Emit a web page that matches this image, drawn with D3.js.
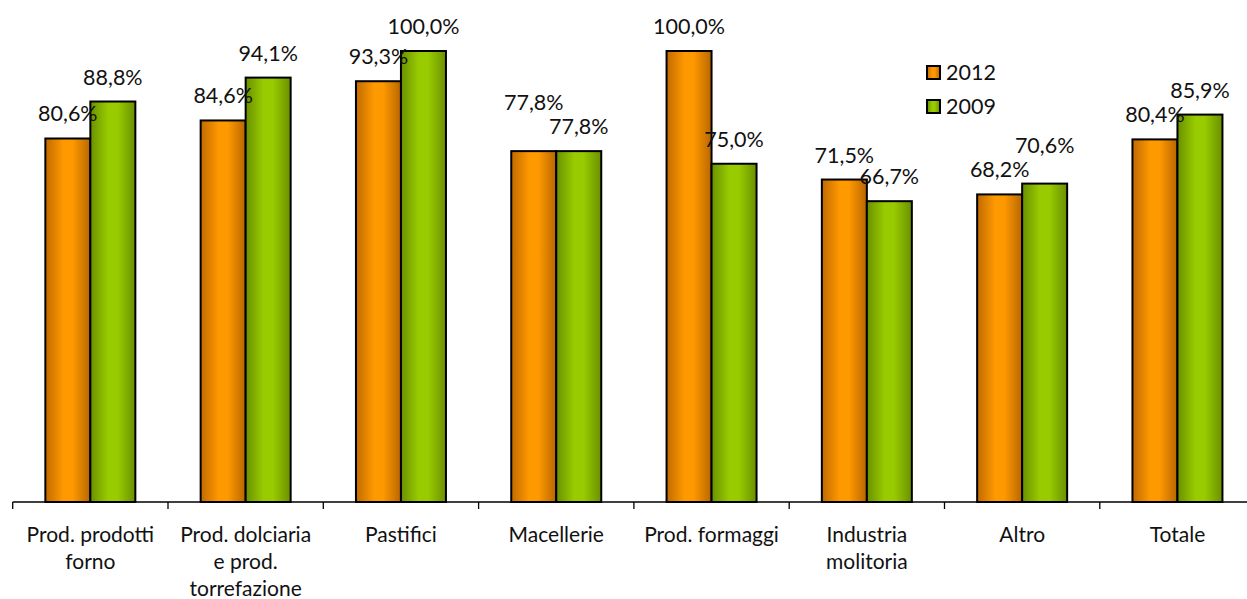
<!DOCTYPE html>
<html><head><meta charset="utf-8">
<script src="https://cdn.jsdelivr.net/npm/d3@7"></script>
<style>body{margin:0;background:#fff}svg{display:block}text{font-family:Lato,"Open Sans",sans-serif;fill:#111}</style>
</head><body><svg id="c" width="1247" height="599"></svg>
<script>
const categories = [["Prod. prodotti","forno"],["Prod. dolciaria","e prod.","torrefazione"],["Pastifici"],["Macellerie"],["Prod. formaggi"],["Industria","molitoria"],["Altro"],["Totale"]];
const series = ["2012","2009"];
const values2012 = [80.6,84.6,93.3,77.8,100.0,71.5,68.2,80.4];
const values2009 = [88.8,94.1,100.0,77.8,75.0,66.7,70.6,85.9];
const seriesValues = [values2012, values2009];
// extra label lift (px) used to avoid label collisions, as in the original
const labelLift = [[0,0,0,24,0,0,0,0],[0,0,0,0,0,0,14,0]];

const svg = d3.select("#c");
const defs = svg.append("defs");
const grads = [["#c06a00","#ff9900","#b86600"],["#6a9000","#99cc00","#6a9000"]];
grads.forEach((g,i)=>{
  const lg = defs.append("linearGradient").attr("id","g"+i).attr("x1","0").attr("x2","1").attr("y1","0").attr("y2","0");
  lg.append("stop").attr("offset","0").attr("stop-color",g[0]);
  lg.append("stop").attr("offset","0.4").attr("stop-color",g[1]);
  lg.append("stop").attr("offset","0.6").attr("stop-color",g[1]);
  lg.append("stop").attr("offset","1").attr("stop-color",g[2]);
});
const x0 = d3.scaleBand().domain(d3.range(categories.length)).range([12.7, 12.7+155.3*8]).paddingInner(0).paddingOuter(0);
const x1 = d3.scaleBand().domain(series).range([x0.bandwidth()/2-45, x0.bandwidth()/2+45]);
const y = d3.scaleLinear().domain([0,100]).range([502,51]);

const g = svg.append("g");
series.forEach((s,si)=>{
  g.selectAll(".b"+si).data(seriesValues[si]).enter().append("rect")
    .attr("x",(d,i)=>x0(i)+x1(s)).attr("width",x1.bandwidth())
    .attr("y",d=>y(d)).attr("height",d=>y(0)-y(d))
    .attr("fill","url(#g"+si+")").attr("stroke","#000").attr("stroke-width",2);
});
series.forEach((s,si)=>{
  g.selectAll(".l"+si).data(seriesValues[si]).enter().append("text")
    .attr("x",(d,i)=>x0(i)+x1(s)+x1.bandwidth()/2).attr("y",(d,i)=>y(d)-17-labelLift[si][i])
    .attr("text-anchor","middle").attr("font-size","21.5px")
    .text(d=>d.toFixed(1).replace(".",",")+"%");
});
// axis
const ax = svg.append("g").attr("transform","translate(0,502)");
ax.append("line").attr("x1",12.7).attr("x2",1247).attr("y1",0).attr("y2",0).attr("stroke","#000").attr("stroke-width",1.3);
ax.selectAll(".t").data(d3.range(categories.length)).enter().append("line")
  .attr("x1",i=>x0(i)).attr("x2",i=>x0(i)).attr("y1",0).attr("y2",7).attr("stroke","#000").attr("stroke-width",1.3);
ax.selectAll(".cl").data(categories).enter().append("text")
  .attr("text-anchor","middle").attr("font-size","21px")
  .attr("transform",(d,i)=>`translate(${x0(i)+x0.bandwidth()/2},0)`)
  .each(function(d){
    d.forEach((line,k)=>d3.select(this).append("tspan").attr("x",0).attr("y",40+k*27).text(line));
  });
// legend
const leg = svg.append("g");
series.forEach((s,si)=>{
  leg.append("rect").attr("x",927).attr("y",66+si*34).attr("width",13).attr("height",13)
    .attr("fill","url(#g"+si+")").attr("stroke","#000").attr("stroke-width",2);
  leg.append("text").attr("x",946).attr("y",80+si*34).attr("font-size","21.5px").text(s);
});
</script></body></html>
